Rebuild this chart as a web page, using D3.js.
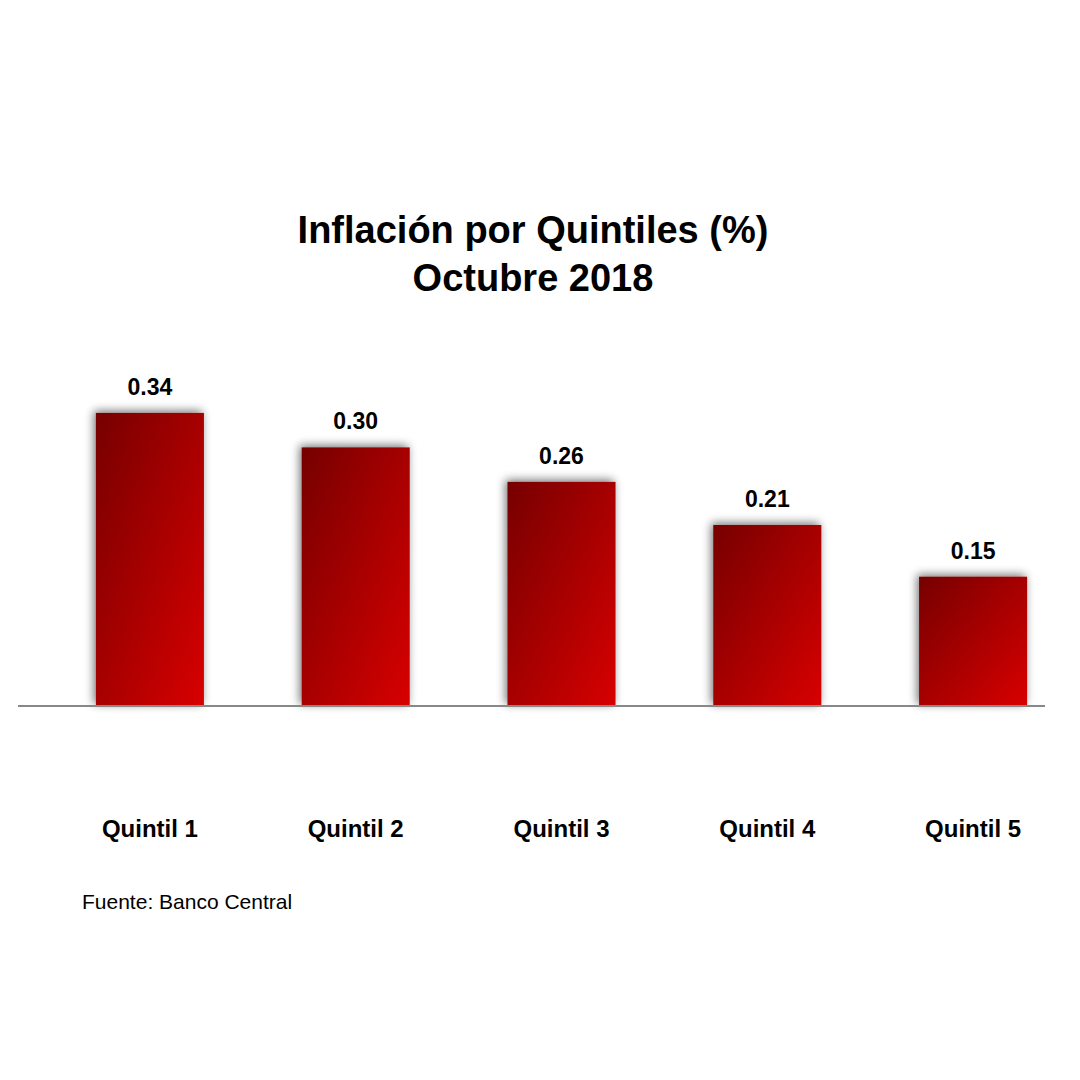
<!DOCTYPE html>
<meta charset="utf-8">
<body>
<script src="https://cdn.jsdelivr.net/npm/d3@7"></script>
<style>
    html, body {
        margin: 0;
        background: #fff;
    }
    text { font-family: "Liberation Sans", Arial, sans-serif; fill: #000; }
</style>
<script>
var categories = ["Quintil 1", "Quintil 2", "Quintil 3", "Quintil 4", "Quintil 5"],
    values = [0.34, 0.30, 0.26, 0.21, 0.15],
    valueLabels = ["0.34", "0.30", "0.26", "0.21", "0.15"];

var width = 1080, height = 1080, baseY = 706;

var svg = d3.select("body").append("svg")
    .attr("width", width)
    .attr("height", height);

var defs = svg.append("defs");
var grad = defs.append("linearGradient")
    .attr("id", "barGrad")
    .attr("x1", "0%").attr("y1", "0%")
    .attr("x2", "100%").attr("y2", "100%");
grad.append("stop").attr("offset", "0%").attr("stop-color", "#760000");
grad.append("stop").attr("offset", "100%").attr("stop-color", "#d80000");

var shadow = defs.append("filter").attr("id", "shadow")
    .attr("x", "-30%").attr("y", "-30%").attr("width", "160%").attr("height", "160%");
shadow.append("feGaussianBlur").attr("in", "SourceAlpha").attr("stdDeviation", 5);
shadow.append("feOffset").attr("dx", -2).attr("dy", -2).attr("result", "b");
shadow.append("feComponentTransfer").append("feFuncA").attr("type", "linear").attr("slope", 0.55);
var merge = shadow.append("feMerge");
merge.append("feMergeNode");
merge.append("feMergeNode").attr("in", "SourceGraphic");

var x = d3.scaleBand()
    .domain(categories)
    .range([47, 1076])
    .paddingInner(0.475)
    .paddingOuter(0.2375);

var y = d3.scaleLinear()
    .domain([0, 0.4])
    .range([baseY, baseY - 862 * 0.4]);

// title
svg.append("text").attr("x", 533).attr("y", 243)
    .attr("text-anchor", "middle").attr("font-size", 38).attr("font-weight", "bold")
    .text("Inflación por Quintiles (%)");
svg.append("text").attr("x", 533).attr("y", 291)
    .attr("text-anchor", "middle").attr("font-size", 38).attr("font-weight", "bold")
    .text("Octubre 2018");

svg.selectAll("rect.bar")
    .data(values)
    .enter().append("rect")
    .attr("class", "bar")
    .attr("x", function(d, i) { return x(categories[i]); })
    .attr("y", function(d) { return y(d); })
    .attr("width", x.bandwidth())
    .attr("height", function(d) { return baseY - y(d); })
    .attr("fill", "url(#barGrad)")
    .attr("filter", "url(#shadow)");

svg.append("line")
    .attr("x1", 18).attr("x2", 1045)
    .attr("y1", baseY).attr("y2", baseY)
    .attr("stroke", "#888").attr("stroke-width", 2);

svg.selectAll("text.val")
    .data(values)
    .enter().append("text")
    .attr("class", "val")
    .attr("x", function(d, i) { return x(categories[i]) + x.bandwidth() / 2; })
    .attr("y", function(d) { return y(d) - 18; })
    .attr("text-anchor", "middle")
    .attr("font-size", 23).attr("font-weight", "bold")
    .text(function(d, i) { return valueLabels[i]; });

svg.selectAll("text.cat")
    .data(categories)
    .enter().append("text")
    .attr("class", "cat")
    .attr("x", function(d) { return x(d) + x.bandwidth() / 2 - 30 + 30; })
    .attr("y", 837)
    .attr("text-anchor", "middle")
    .attr("font-size", 24).attr("font-weight", "bold")
    .text(function(d) { return d; });

svg.append("text").attr("x", 82).attr("y", 909)
    .attr("font-size", 21)
    .text("Fuente:  Banco Central");
</script>
